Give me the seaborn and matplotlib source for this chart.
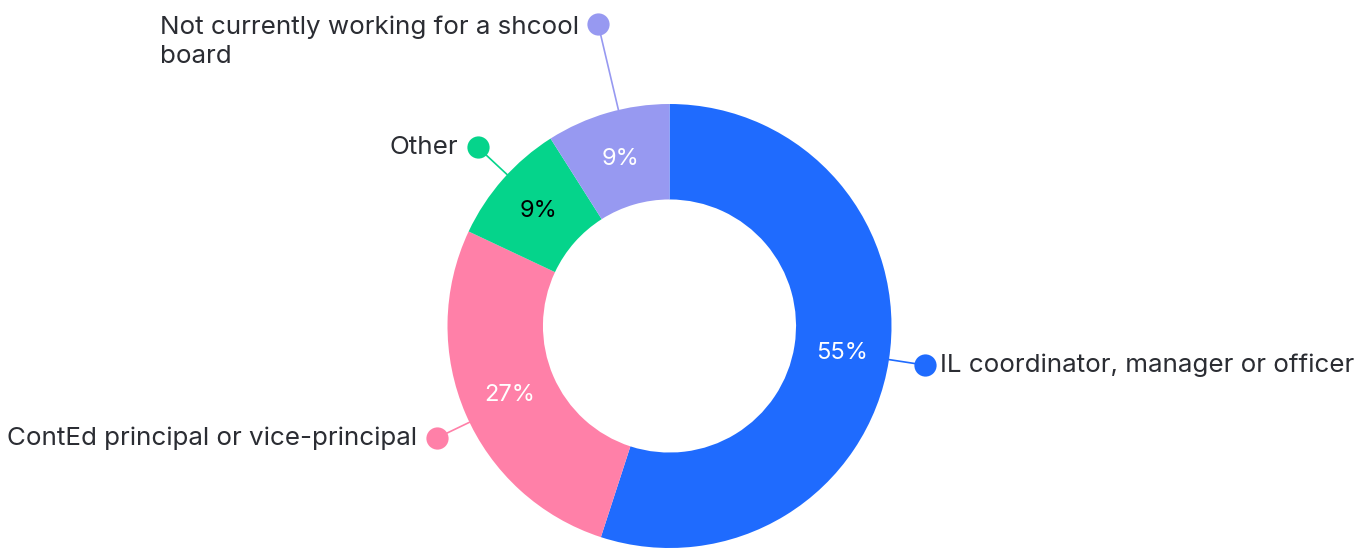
import numpy as np
import matplotlib
matplotlib.use("Agg")
import matplotlib.pyplot as plt
import seaborn as sns

# ---- data ----
categories = [
    "IL coordinator, manager or officer",
    "ContEd principal or vice-principal",
    "Other",
    "Not currently working for a shcool\nboard",
]
shares = [55, 27, 9, 9]
colors = ["#1F6BFE", "#FF80A8", "#05D48B", "#9799F1"]
pct_text_colors = ["white", "white", "black", "white"]

# ---- style ----
sns.set_theme(style="white")
plt.rcParams["font.family"] = ["Inter", "DejaVu Sans"]
palette = sns.color_palette(colors)

W, H, DPI = 1359, 548, 100
fig = plt.figure(figsize=(W / DPI, H / DPI), dpi=DPI)
ax = fig.add_axes([0, 0, 1, 1])

wedges, _texts, autotexts = ax.pie(
    shares,
    colors=palette,
    startangle=90,
    counterclock=False,
    radius=1.0,
    wedgeprops=dict(width=0.43, edgecolor="none"),
    autopct=lambda p: f"{p:.0f}%",
    pctdistance=0.785,
    textprops=dict(fontsize=17),
)
for t, c in zip(autotexts, pct_text_colors):
    t.set_color(c)

R_PX = 222.0
cx_px, cy_px = 669.5, 326.0
ax.set_xlim(-cx_px / R_PX, (W - cx_px) / R_PX)
ax.set_ylim(-(H - cy_px) / R_PX, cy_px / R_PX)
ax.set_aspect("equal")
ax.axis("off")

# leader lines and label dots (layout: radius and small angular nudge)
leader_r = [1.165, 1.163, 1.18, 1.40]
leader_nudge = [0.3, 2.3, -1.6, -2.9]
text_color = "#2B2D33"
fs = 18.7
for w, lab, col, lr, dn in zip(wedges, categories, palette, leader_r, leader_nudge):
    ang = np.deg2rad((w.theta1 + w.theta2) / 2 + dn)
    x0, y0 = np.cos(ang), np.sin(ang)
    x1, y1 = lr * np.cos(ang), lr * np.sin(ang)
    ax.plot([x0, x1], [y0, y1], color=col, lw=1.2, zorder=1)
    ax.plot([x1], [y1], "o", color=col, markersize=16, markeredgewidth=0, zorder=3)
    if x1 > 0:
        ax.annotate(lab, (x1, y1), xytext=(11, 0), textcoords="offset points",
                    ha="left", va="center", fontsize=fs, color=text_color)
    elif "\n" in lab:
        ax.annotate(lab, (x1, y1), xytext=(-14, 5.5), textcoords="offset points",
                    ha="right", va="top", multialignment="left",
                    fontsize=fs, color=text_color, linespacing=1.3)
    else:
        ax.annotate(lab, (x1, y1), xytext=(-14, 0), textcoords="offset points",
                    ha="right", va="center", fontsize=fs, color=text_color)

fig.savefig("out.png", dpi=DPI, facecolor="white")
